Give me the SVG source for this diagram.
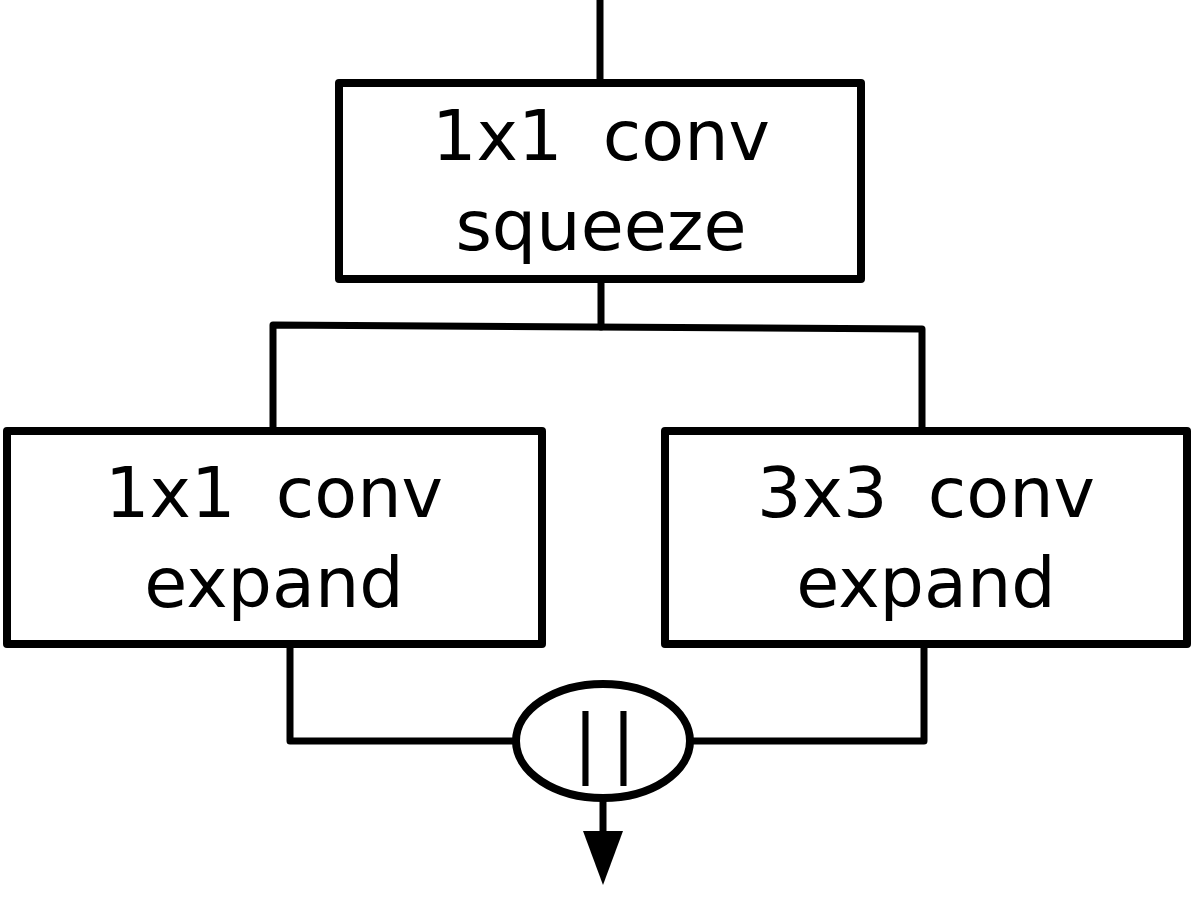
<svg xmlns="http://www.w3.org/2000/svg" width="1193" height="897" viewBox="0 0 1193 897">
<style>
.box{fill:#fff;stroke:#000;stroke-width:8;stroke-linejoin:round}
.ln{fill:none;stroke:#000;stroke-width:7;stroke-linejoin:round;stroke-linecap:round}
.t{font-family:"DejaVu Sans",sans-serif;font-size:70px;fill:#000;text-anchor:middle;word-spacing:18px}
</style>
<g id="connectors">
<path class="ln" d="M600,0 L600,80"/>
<path class="ln" d="M601,281 L601,327"/>
<path class="ln" d="M273,428 L273,325 L922,329 L922,428"/>
<path class="ln" d="M290,647 L290,741 L515,741"/>
<path class="ln" d="M924,647 L924,741 L692,741"/>
<line x1="603" y1="800" x2="603" y2="831" stroke="#000" stroke-width="7"/>
<path d="M583,831 L623,831 L603,885 Z" fill="#000"/>
</g>
<g id="squeeze">
<rect class="box" x="339" y="83" width="522" height="196"/>
<text class="t" x="601" y="160">1x1 conv</text>
<text class="t" x="601" y="250">squeeze</text>
</g>
<g id="expand1">
<rect class="box" x="7" y="431" width="535" height="213"/>
<text class="t" x="274" y="517">1x1 conv</text>
<text class="t" x="274" y="607">expand</text>
</g>
<g id="expand3">
<rect class="box" x="665" y="431" width="522" height="213"/>
<text class="t" x="926" y="517">3x3 conv</text>
<text class="t" x="926" y="607">expand</text>
</g>
<g id="concat">
<ellipse cx="603" cy="741" rx="87" ry="57" fill="#fff" stroke="#000" stroke-width="8"/>
<text x="611" y="768" style="font-family:'DejaVu Sans',sans-serif;font-size:74px;letter-spacing:13px;text-anchor:middle" fill="#000">||</text>
</g>
</svg>
